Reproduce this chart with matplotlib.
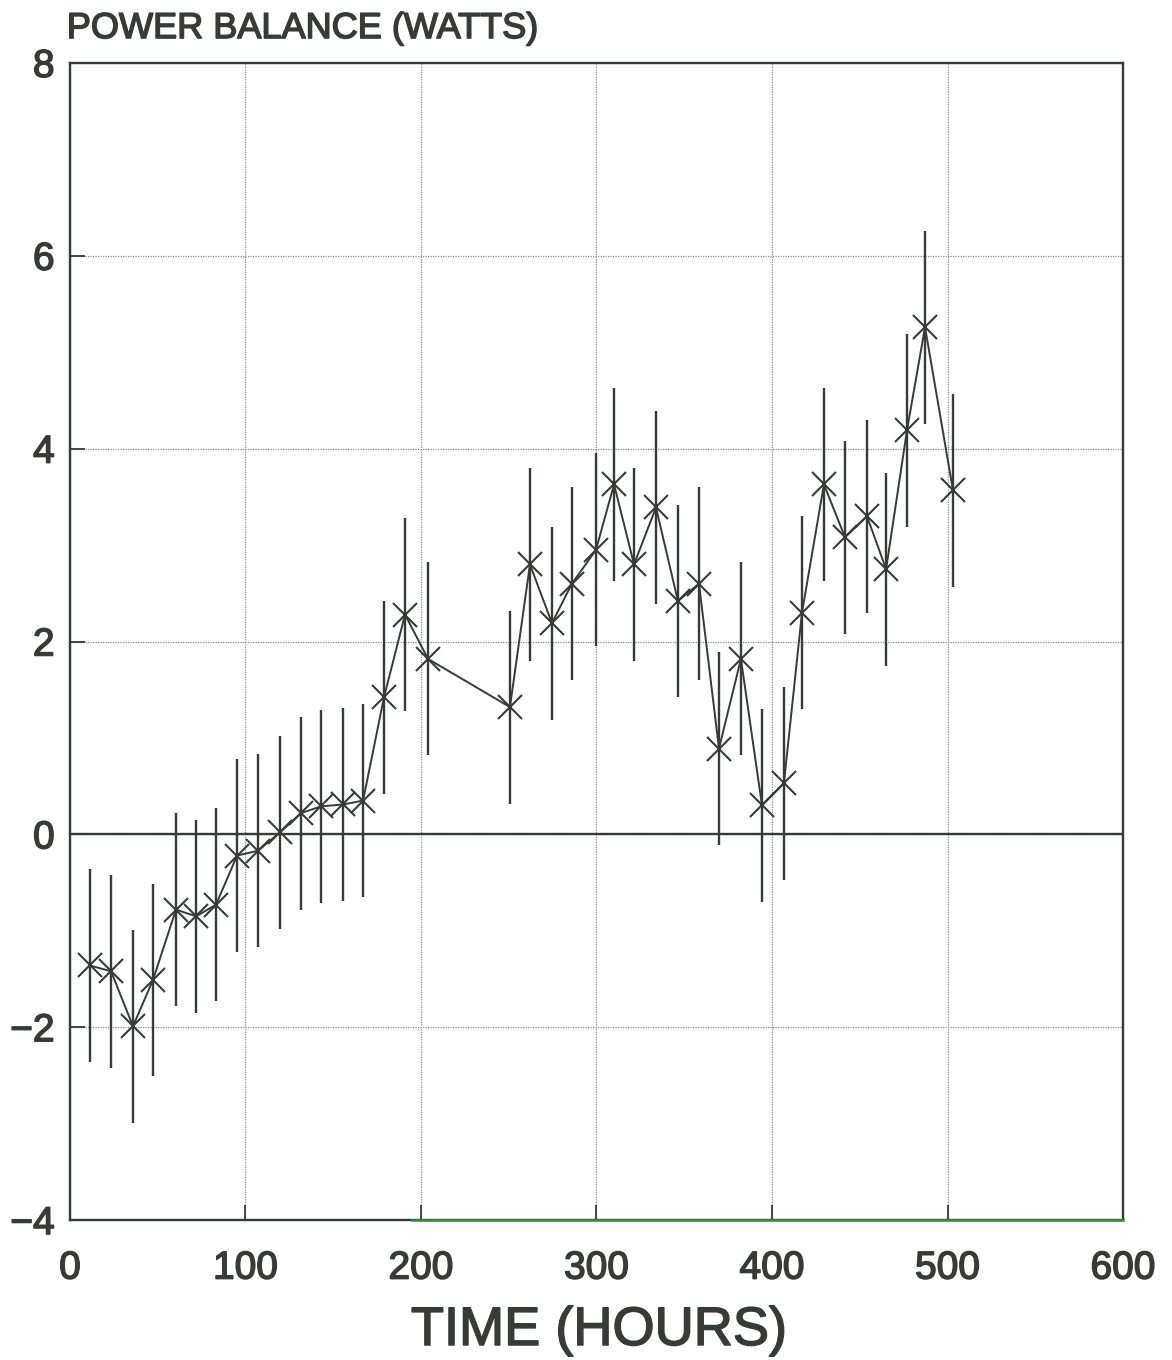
import matplotlib
matplotlib.use("Agg")
import matplotlib.pyplot as plt
import matplotlib.patheffects as pe

hours = [11.4, 23.4, 35.9, 47.3, 60.4, 71.8, 83.2, 95.2, 107.1, 119.7,
         131.6, 143.0, 155.6, 167.0, 178.9, 190.9, 204.0, 250.7, 262.1, 274.6,
         286.0, 299.7, 310.0, 321.4, 333.9, 346.4, 358.4, 369.8, 382.3, 394.3,
         406.8, 417.1, 429.6, 441.6, 454.1, 465.0, 476.9, 487.2, 503.1]
watts = [-1.36, -1.42, -1.99, -1.51, -0.78, -0.85, -0.73, -0.22, -0.17, 0.02,
         0.22, 0.29, 0.31, 0.35, 1.42, 2.28, 1.82, 1.32, 2.80, 2.19,
         2.60, 2.95, 3.63, 2.80, 3.39, 2.42, 2.60, 0.89, 1.82, 0.30,
         0.53, 2.30, 3.63, 3.08, 3.30, 2.75, 4.19, 5.26, 3.57]
err = [1.0, 1.0, 1.0, 1.0, 1.0, 1.0, 1.0, 1.0, 1.0, 1.0,
       1.0, 1.0, 1.0, 1.0, 1.0, 1.0, 1.0, 1.0, 1.0, 1.0,
       1.0, 1.0, 1.0, 1.0, 1.0, 1.0, 1.0, 1.0, 1.0, 1.0,
       1.0, 1.0, 1.0, 1.0, 1.0, 1.0, 1.0, 1.0, 1.0]

xticks = [0, 100, 200, 300, 400, 500, 600]
yticks = [-4, -2, 0, 2, 4, 6, 8]
ytick_labels = ['\u22124', '\u22122', '0', '2', '4', '6', '8']

ink = '#363b38'
plt.rcParams['font.family'] = ['Liberation Sans', 'DejaVu Sans']
# scanned lettering is a bit heavier than the regular face
thick = [pe.withStroke(linewidth=1.1, foreground=ink)]

fig = plt.figure(figsize=(11.72, 13.6), dpi=100)
ax = fig.add_axes([0.0597, 0.1029, 0.8985, 0.8508])

ax.errorbar(hours, watts, yerr=err, fmt='-', color=ink, ecolor=ink,
            elinewidth=1.7, linewidth=1.4, capsize=0, marker='x',
            markersize=17, markeredgewidth=1.5, zorder=3)

ax.axhline(0, color=ink, linewidth=1.7, zorder=2)
ax.set_xlim(0, 600)
ax.set_ylim(-4, 8)
ax.set_xticks(xticks)
ax.set_yticks(yticks)
ax.set_yticklabels(ytick_labels)
ax.grid(True, color='#8a8a8a', linestyle=(0, (1, 1)), linewidth=0.9)
ax.set_axisbelow(True)

ax.tick_params(direction='in', length=11, width=1.3, color=ink,
               top=False, right=False)
ax.tick_params(axis='y', labelsize=28, labelcolor=ink, pad=11)
ax.tick_params(axis='x', labelsize=28, labelcolor=ink, pad=22)
for lab in ax.get_xticklabels() + ax.get_yticklabels():
    lab.set_path_effects(thick)

for s in ax.spines.values():
    s.set_color(ink)
    s.set_linewidth(1.7)

# greenish tint on the bottom frame line, as in the scan
ax.plot([195, 600], [-4, -4], color='#2f8f3f', linewidth=1.8,
        clip_on=False, zorder=4)

fig.text(0.511, (1360 - 1331) / 1360, 'TIME (HOURS)', fontsize=39,
         color=ink, ha='center', va='center', path_effects=thick)
fig.text(0.057, 0.979, 'POWER BALANCE (WATTS)', fontsize=26, color=ink,
         ha='left', va='center', path_effects=thick)

fig.savefig('out.png', dpi=100, facecolor='white')
